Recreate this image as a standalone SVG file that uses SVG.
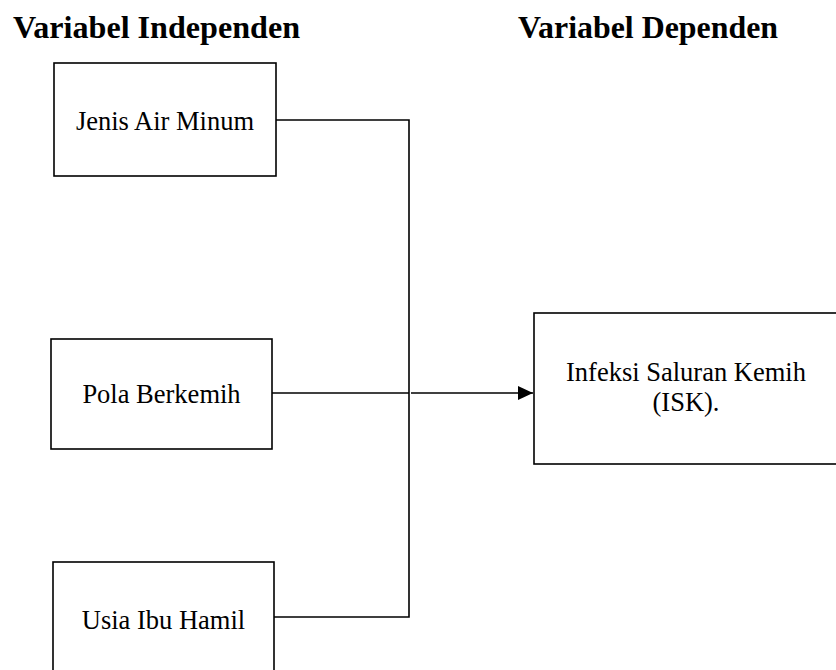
<svg xmlns="http://www.w3.org/2000/svg" width="836" height="670" viewBox="0 0 836 670">
<defs>
<style>
.title{font-family:"Liberation Serif","Times New Roman",serif;font-weight:bold;font-size:32px;fill:#000}
.box{fill:#fff;stroke:#000;stroke-width:1.6}
.lbl{font-family:"Liberation Serif","Times New Roman",serif;font-size:26.5px;fill:#000;text-anchor:middle}
.conn{fill:none;stroke:#000;stroke-width:1.6}
</style>
<marker id="arrow" markerWidth="16" markerHeight="14" refX="15" refY="7" orient="auto" markerUnits="userSpaceOnUse">
<path d="M0,0 L15,7 L0,14 Z" fill="#000"/>
</marker>
</defs>
<rect width="836" height="670" fill="#fff"/>
<text class="title" x="13" y="38" textLength="287" lengthAdjust="spacingAndGlyphs">Variabel Independen</text>
<text class="title" x="518" y="38" textLength="260" lengthAdjust="spacingAndGlyphs">Variabel Dependen</text>
<g id="connectors">
<path class="conn" d="M276,120 H409 V617 H274"/>
<path class="conn" d="M272,393 H409"/>
<path class="conn" d="M411,393 H533" marker-end="url(#arrow)"/>
</g>
<g id="node-jenis">
<rect class="box" x="54" y="63" width="222" height="113"/>
<text class="lbl" x="165" y="130">Jenis Air Minum</text>
</g>
<g id="node-pola">
<rect class="box" x="51" y="339" width="221" height="110"/>
<text class="lbl" x="161.5" y="403">Pola Berkemih</text>
</g>
<g id="node-usia">
<rect class="box" x="53" y="562" width="221" height="120"/>
<text class="lbl" x="163.5" y="629">Usia Ibu Hamil</text>
</g>
<g id="node-isk">
<rect class="box" x="534" y="313" width="310" height="151"/>
<text class="lbl" x="686" y="381">Infeksi Saluran Kemih</text>
<text class="lbl" x="686" y="411">(ISK).</text>
</g>
</svg>
